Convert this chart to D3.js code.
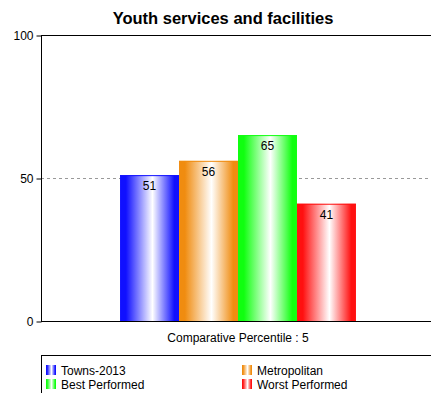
<!DOCTYPE html>
<html>
<head>
<meta charset="utf-8">
<script src="https://cdn.jsdelivr.net/npm/d3@7"></script>
<style>
  html, body { margin: 0; padding: 0; background: #fff; }
  svg { display: block; font-family: "Liberation Sans", Arial, sans-serif; }
</style>
</head>
<body>
<svg id="chart" width="431" height="393"></svg>
<script>
// Chart data
const title = "Youth services and facilities";
const categories = ["Comparative Percentile : 5"];
const seriesNames = ["Towns-2013", "Metropolitan", "Best Performed", "Worst Performed"];
const seriesValues = [51, 56, 65, 41];
const seriesColors = ["#1010ff", "#f08c10", "#10ff10", "#ff1010"];
const yTicks = [0, 50, 100];

const svg = d3.select("#chart");
const W = 431, H = 393;
const margin = { left: 41, top: 35, right: -4, bottom: 72 };
const plotRight = W - margin.right;
const plotBottom = H - margin.bottom;

// Gradients: saturated edges, white highlight slightly right of centre
const defs = svg.append("defs");
seriesColors.forEach((c, i) => {
  const g = defs.append("linearGradient")
    .attr("id", "grad" + i)
    .attr("x1", "0%").attr("x2", "100%").attr("y1", "0%").attr("y2", "0%");
  g.append("stop").attr("offset", "0%").attr("stop-color", c);
  g.append("stop").attr("offset", "10%").attr("stop-color", c);
  g.append("stop").attr("offset", "55%").attr("stop-color", "#ffffff");
  g.append("stop").attr("offset", "92%").attr("stop-color", c);
  g.append("stop").attr("offset", "100%").attr("stop-color", c);
});

const y = d3.scaleLinear().domain([0, 100]).range([plotBottom, margin.top]);
const x0 = d3.scaleBand().domain(categories).range([margin.left, plotRight])
  .paddingInner(0).paddingOuter(0.335);
const x1 = d3.scaleBand().domain(seriesNames).range([0, x0.bandwidth()]);

// Title
svg.append("text")
  .attr("x", 223).attr("y", 24)
  .attr("text-anchor", "middle")
  .attr("font-size", 16.5)
  .attr("font-weight", "bold")
  .attr("fill", "#000")
  .text(title);

// Dashed grid line at 50
svg.append("g").selectAll("line")
  .data(yTicks.filter(t => t !== 0 && t !== 100))
  .join("line")
  .attr("x1", margin.left).attr("x2", plotRight)
  .attr("y1", d => Math.round(y(d)) + 0.5).attr("y2", d => Math.round(y(d)) + 0.5)
  .attr("stroke", "#999").attr("stroke-dasharray", "3,3");

// Top frame line
svg.append("line")
  .attr("x1", margin.left).attr("x2", plotRight)
  .attr("y1", Math.round(y(100)) + 0.5).attr("y2", Math.round(y(100)) + 0.5)
  .attr("stroke", "#000");

// Bars
const barData = seriesNames.map((n, i) => ({ name: n, value: seriesValues[i], i }));
const group = svg.append("g").selectAll("g")
  .data(categories)
  .join("g")
  .attr("transform", d => `translate(${x0(d)},0)`);

group.selectAll("rect")
  .data(barData)
  .join("rect")
  .attr("x", d => x1(d.name))
  .attr("y", d => y(d.value))
  .attr("width", x1.bandwidth())
  .attr("height", d => y(0) - y(d.value))
  .attr("fill", d => `url(#grad${d.i})`);

group.selectAll("line.top")
  .data(barData)
  .join("line")
  .attr("class", "top")
  .attr("x1", d => x1(d.name)).attr("x2", d => x1(d.name) + x1.bandwidth())
  .attr("y1", d => y(d.value) + 0.5).attr("y2", d => y(d.value) + 0.5)
  .attr("stroke", d => seriesColors[d.i]);

group.selectAll("text.val")
  .data(barData)
  .join("text")
  .attr("class", "val")
  .attr("x", d => x1(d.name) + x1.bandwidth() / 2)
  .attr("y", d => y(d.value) + 15)
  .attr("text-anchor", "middle")
  .attr("font-size", 12)
  .attr("fill", "#000")
  .text(d => d.value);

// Axes
const yAxis = d3.axisLeft(y).tickValues(yTicks).tickSize(5).tickPadding(3);
const ya = svg.append("g")
  .attr("transform", `translate(${margin.left + 0.5},0.5)`)
  .call(yAxis);
ya.select(".domain").attr("d", `M0,${y(100)}V${y(0)}`);
ya.selectAll("text").attr("font-size", 12).attr("font-family", "Liberation Sans, Arial, sans-serif").attr("fill", "#000");

const xAxis = d3.axisBottom(x0).tickSize(0).tickPadding(12);
const xa = svg.append("g")
  .attr("transform", `translate(0,${Math.round(y(0)) + 0.5})`)
  .call(xAxis);
xa.select(".domain").attr("d", `M${margin.left},0H${plotRight}`).attr("stroke", "#000");
xa.selectAll("text").attr("font-size", 12).attr("font-family", "Liberation Sans, Arial, sans-serif").attr("fill", "#000");

// Legend
const legend = svg.append("g");
legend.append("rect")
  .attr("x", margin.left + 0.5).attr("y", 355.5)
  .attr("width", 400).attr("height", 60)
  .attr("fill", "none").attr("stroke", "#000");

const item = legend.selectAll("g.item")
  .data(barData)
  .join("g")
  .attr("class", "item")
  .attr("transform", d => `translate(${46 + (d.i % 2) * 196},${365 + Math.floor(d.i / 2) * 14})`);

item.append("rect")
  .attr("width", 10).attr("height", 10)
  .attr("fill", d => `url(#grad${d.i})`);

item.append("text")
  .attr("x", 15).attr("y", 9.5)
  .attr("font-size", 12)
  .attr("fill", "#000")
  .text(d => d.name);
</script>
</body>
</html>
